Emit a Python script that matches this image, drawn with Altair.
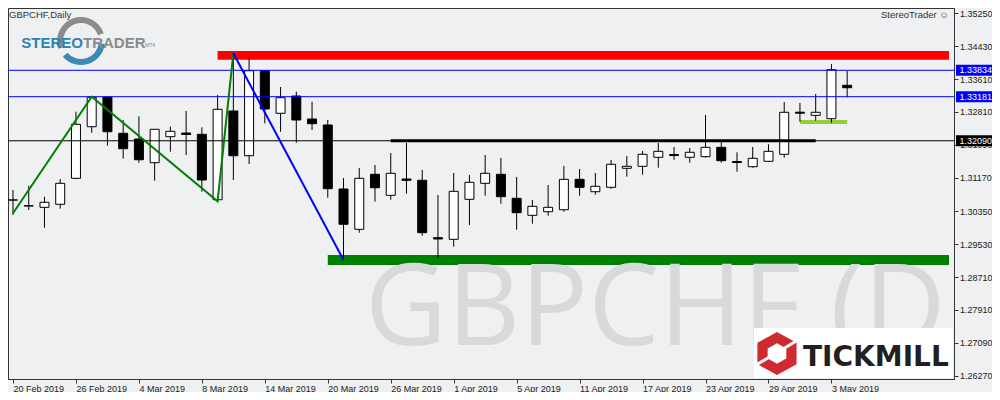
import json
import altair as alt
import pandas as pd

# ---------------- data ----------------
opens = [1.30624, 1.30482, 1.30443, 1.30518, 1.31161, 1.32438, 1.33170, 1.32275, 1.32134, 1.31547,
         1.32191, 1.32282, 1.32250, 1.30631, 1.32827, 1.31720, 1.33824, 1.32770, 1.33198, 1.32629,
         1.32480, 1.30896, 1.29899, 1.31260, 1.30740, 1.31144, 1.31112, 1.29691, 1.29651, 1.30641,
         1.31037, 1.31260, 1.30666, 1.30245, 1.30334, 1.30384, 1.31136, 1.30829, 1.30938, 1.31409,
         1.31458, 1.31681, 1.31750, 1.31681, 1.31696, 1.31928, 1.31577, 1.31448, 1.31582, 1.31755,
         1.32797, 1.32720, 1.32636, 1.33463]
highs = [1.30872, 1.30978, 1.30706, 1.31144, 1.32809, 1.33181, 1.33181, 1.32604, 1.32696, 1.32380,
         1.32438, 1.32827, 1.32423, 1.33223, 1.34255, 1.34171, 1.33834, 1.33421, 1.33304, 1.33057,
         1.32604, 1.31169, 1.31416, 1.31490, 1.31787, 1.32035, 1.31367, 1.30748, 1.31292, 1.31243,
         1.31738, 1.31664, 1.31193, 1.30624, 1.30995, 1.31466, 1.31391, 1.31292, 1.31614, 1.31713,
         1.31837, 1.32035, 1.31936, 1.31911, 1.32728, 1.32067, 1.31805, 1.31936, 1.32003, 1.33050,
         1.33025, 1.33248, 1.33990, 1.33824]
lows = [1.30253, 1.30377, 1.29938, 1.30409, 1.31140, 1.32290, 1.31968, 1.31646, 1.31547, 1.31102,
        1.31819, 1.31738, 1.30829, 1.30592, 1.31119, 1.31515, 1.32522, 1.32314, 1.32042, 1.32357,
        1.30681, 1.29139, 1.29815, 1.30582, 1.30631, 1.30780, 1.29740, 1.29196, 1.29468, 1.30005,
        1.30730, 1.30532, 1.29889, 1.30037, 1.30235, 1.30334, 1.30730, 1.30755, 1.30904, 1.31201,
        1.31250, 1.31423, 1.31621, 1.31547, 1.31671, 1.31547, 1.31324, 1.31423, 1.31570, 1.31671,
        1.32562, 1.32587, 1.32537, 1.33166]
closes = [1.30624, 1.30476, 1.30567, 1.31037, 1.32498, 1.33165, 1.32314, 1.31894, 1.31621, 1.32374,
          1.32324, 1.32245, 1.31119, 1.32869, 1.31720, 1.33824, 1.32876, 1.33156, 1.32604, 1.32512,
          1.30904, 1.30023, 1.31161, 1.30928, 1.31285, 1.31112, 1.29815, 1.29659, 1.30839, 1.31062,
          1.31285, 1.30706, 1.30310, 1.30468, 1.30443, 1.31136, 1.30938, 1.30963, 1.31508, 1.31458,
          1.31755, 1.31829, 1.31725, 1.31805, 1.31928, 1.31597, 1.31552, 1.31656, 1.31829, 1.32795,
          1.32772, 1.32795, 1.33849, 1.33403]

tick_idx = [0, 4, 8, 12, 16, 20, 24, 28, 32, 36, 40, 44, 48, 52]
tick_labels = ["20 Feb 2019", "26 Feb 2019", "4 Mar 2019", "8 Mar 2019", "14 Mar 2019",
               "20 Mar 2019", "26 Mar 2019", "1 Apr 2019", "5 Apr 2019", "11 Apr 2019",
               "17 Apr 2019", "23 Apr 2019", "29 Apr 2019", "3 May 2019"]
price_ticks = [1.35250, 1.34430, 1.33610, 1.32810, 1.31990, 1.31170, 1.30350,
               1.29530, 1.28710, 1.27910, 1.27090, 1.26270]

level_prices = [1.33834, 1.33181, 1.32090]
level_colors = ["#0000ff", "#0000ff", "#000000"]

band_start = [13, 20, 50]
band_stop = ["edge", "edge", 53]
band_top = [1.34312, 1.29263, 1.32604]
band_bottom = [1.34096, 1.29015, 1.32505]
band_colors = ["#ff0000", "#008000", "#9acd32"]

thick_start, thick_stop, thick_price = 24, 51, 1.32090

green_zz_idx = [0, 5, 13, 14]
green_zz_price = [1.30295, 1.33181, 1.30592, 1.34255]
blue_zz_idx = [14, 21]
blue_zz_price = [1.34255, 1.29139]

# ---------------- scales / styles ----------------
X_DOMAIN = [0, 59.47]
Y_DOMAIN = [1.26194, 1.35376]
BG = "#eef0f2"
LABEL_FONT = "Liberation Sans"
LABEL_SIZE = 9

xs = alt.Scale(domain=X_DOMAIN, nice=False, zero=False)
ys = alt.Scale(domain=Y_DOMAIN, nice=False, zero=False)

label_expr = f"{json.dumps(tick_labels)}[indexof({json.dumps(tick_idx)}, datum.value)]"

x_axis = alt.Axis(values=tick_idx, labelExpr=label_expr, orient="bottom", tickSize=4,
                  labelPadding=1, labelAlign="left", labelBaseline="top", labelFont=LABEL_FONT,
                  labelFontSize=LABEL_SIZE, labelColor="#222222", domainColor="#333333",
                  tickColor="#333333", grid=False, title=None, labelOverlap=False,
                  labelFlush=False)
y_axis = alt.Axis(values=price_ticks, format=".5f", orient="right", tickSize=4,
                  labelPadding=1.5, labelFont=LABEL_FONT, labelFontSize=LABEL_SIZE,
                  labelColor="#222222", domainColor="#333333", tickColor="#333333",
                  grid=False, title=None, labelOverlap=False, labelFlush=False)


def X(field):
    return alt.X(field, type="quantitative", scale=xs, axis=x_axis)


def Y(field):
    return alt.Y(field, type="quantitative", scale=ys, axis=y_axis)


candles = pd.DataFrame({
    "i": list(range(len(opens))), "o": opens, "h": highs, "l": lows, "c": closes,
})
candles["dir"] = ["up" if c >= o else "down" for o, c in zip(opens, closes)]

bands = pd.DataFrame({
    "x1": band_start,
    "x2": [X_DOMAIN[1] if s == "edge" else s for s in band_stop],
    "top": band_top, "bot": band_bottom, "col": band_colors,
})
levels = pd.DataFrame({"price": level_prices, "col": level_colors})
thick = pd.DataFrame({"x1": [thick_start], "x2": [thick_stop], "price": [thick_price]})
gzz = pd.DataFrame({"i": green_zz_idx, "price": green_zz_price})
bzz = pd.DataFrame({"i": blue_zz_idx, "price": blue_zz_price})
one = pd.DataFrame({"k": [0]})

band_layer = alt.Chart(bands).mark_rect(clip=True).encode(
    x=X("x1"), x2="x2:Q", y=Y("top"), y2="bot:Q",
    color=alt.Color("col:N", scale=None),
)

watermark = alt.Chart(one).mark_text(
    text="GBPCHF (D1)", font="Open Sans", fontSize=113, color="#d8d9da",
    align="left", baseline="alphabetic", clip=True,
).encode(x=alt.value(357), y=alt.value(337))

wicks = alt.Chart(candles).mark_rule(color="black", strokeWidth=1, clip=True).encode(
    x=X("i"), y=Y("l"), y2="h:Q",
)
bodies = alt.Chart(candles).mark_bar(size=9, stroke="black", strokeWidth=1, clip=True).encode(
    x=X("i"), y=Y("o"), y2="c:Q",
    fill=alt.Fill("dir:N", scale=alt.Scale(domain=["up", "down"], range=["#ffffff", "#000000"]),
                  legend=None),
)

hlines = alt.Chart(levels).mark_rule(strokeWidth=1).encode(
    y=Y("price"), color=alt.Color("col:N", scale=None),
)
thick_line = alt.Chart(thick).mark_rule(strokeWidth=3, color="black", clip=True).encode(
    x=X("x1"), x2="x2:Q", y=Y("price"),
)
green_line = alt.Chart(gzz).mark_line(color="#008000", strokeWidth=2, clip=True).encode(
    x=X("i"), y=Y("price"),
)
blue_line = alt.Chart(bzz).mark_line(color="#0000ff", strokeWidth=2, clip=True).encode(
    x=X("i"), y=Y("price"),
)

# ---------------- header texts & logos ----------------
title_txt = alt.Chart(one).mark_text(
    text="GBPCHF,Daily", font=LABEL_FONT, fontSize=LABEL_SIZE + 0.5, color="#333333",
    align="left", baseline="alphabetic",
).encode(x=alt.value(1), y=alt.value(9.5))
st_txt = alt.Chart(one).mark_text(
    text="StereoTrader \u263a", font=LABEL_FONT, fontSize=LABEL_SIZE + 0.5, color="#333333",
    align="right", baseline="alphabetic",
).encode(x=alt.value(941), y=alt.value(9.5))

ring_grey = alt.Chart(one).mark_arc(
    radius=24, radius2=18, theta=4.38, theta2=7.53, color="#8c8c8c",
).encode(x=alt.value(73), y=alt.value(33))
ring_blue = alt.Chart(one).mark_arc(
    radius=24, radius2=18, theta=1.7, theta2=4.0, color="#3a8ab8",
).encode(x=alt.value(73), y=alt.value(33))
stereo_txt = alt.Chart(one).mark_text(
    text="STEREO", font="Liberation Sans", fontSize=15,
    fontWeight="bold", color="#2f82b0", align="right", baseline="alphabetic",
).encode(x=alt.value(75), y=alt.value(39.5))
trader_txt = alt.Chart(one).mark_text(
    text="TRADER", font="Liberation Sans", fontSize=15,
    fontWeight="bold", color="#8a8a8a", align="left", baseline="alphabetic",
).encode(x=alt.value(75), y=alt.value(39.5))
mt4_txt = alt.Chart(one).mark_text(
    text="MT4", font=LABEL_FONT, fontSize=5, color="#8a8a8a", align="left",
    baseline="alphabetic",
).encode(x=alt.value(137), y=alt.value(39))

HEX = "M0,-1L0.91,-0.5L0.91,0.5L0,1L-0.91,0.5L-0.91,-0.5Z"
tm_box = alt.Chart(one).mark_rect(color="#ffffff").encode(
    x=alt.value(746), x2=alt.value(945), y=alt.value(320), y2=alt.value(370))
tm_hex = alt.Chart(one).mark_point(shape=HEX, size=1850, filled=True, color="#cf2a30",
                                   opacity=1, strokeWidth=0).encode(
    x=alt.value(769), y=alt.value(345.5))
tm_hole = alt.Chart(one).mark_point(shape=HEX, size=420, filled=True, color="#ffffff",
                                    opacity=1, strokeWidth=0).encode(
    x=alt.value(769), y=alt.value(345.5))
tm_slash = alt.Chart(one).mark_rule(color="#ffffff", strokeWidth=3).encode(
    x=alt.value(748), x2=alt.value(790), y=alt.value(357), y2=alt.value(332))
tm_txt = alt.Chart(one).mark_text(
    text="TICKMILL", font="DejaVu Sans", fontSize=28, fontWeight="bold", color="#231f20",
    align="left", baseline="alphabetic",
).encode(x=alt.value(795), y=alt.value(358))

# ---------------- price level labels on the axis ----------------
lvl_box = alt.Chart(levels).mark_rect(yOffset=-5.5, y2Offset=5.5).encode(
    x=alt.value(948), x2=alt.value(984),
    y=Y("price"), y2="price:Q",
    color=alt.Color("col:N", scale=None),
)
lvl_txt = alt.Chart(levels).mark_text(
    align="left", baseline="middle", font=LABEL_FONT, fontSize=LABEL_SIZE, color="#ffffff",
).encode(
    x=alt.value(951.5), y=Y("price"),
    text=alt.Text("price:Q", format=".5f"),
)

chart = alt.layer(
    band_layer, watermark, wicks, bodies, hlines, thick_line, green_line, blue_line,
    title_txt, st_txt, ring_grey, ring_blue, stereo_txt, trader_txt, mt4_txt,
    tm_box, tm_hex, tm_hole, tm_slash, tm_txt, lvl_box, lvl_txt,
).properties(
    width=946, height=371,
    padding={"left": 0, "top": 0, "right": 38, "bottom": 13},
    autosize=alt.AutoSizeParams(type="none"),
    background=BG,
).configure_view(stroke="#333333", strokeWidth=1)

chart.save("out.html", embed_options={"renderer": "svg", "actions": False})
